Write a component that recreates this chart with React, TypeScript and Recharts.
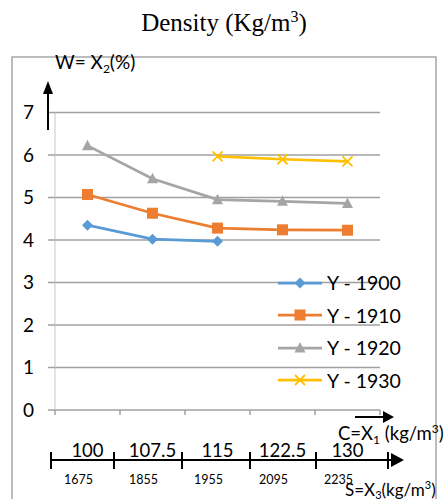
import React from 'react';
import { LineChart, Line, XAxis, YAxis, CartesianGrid, Legend } from 'recharts';

// cement content C = X1 (kg/m3), and matching density S = X3
const cementLabels = ['100', '107.5', '115', '122.5', '130'];
const densityLabels = ['1675', '1855', '1955', '2095', '2235'];

// moisture W = X2 (%)
const y1900 = [4.35, 4.02, 3.97, null, null];
const y1910 = [5.07, 4.63, 4.28, 4.24, 4.23];
const y1920 = [6.22, 5.44, 4.95, 4.91, 4.86];
const y1930 = [null, null, 5.97, 5.9, 5.85];

const yTicks = [0, 1, 2, 3, 4, 5, 6, 7];

const SERIES = [
  { key: 'y1900', name: 'Y - 1900', color: '#5b9bd5', marker: 'diamond' },
  { key: 'y1910', name: 'Y - 1910', color: '#ed7d31', marker: 'square' },
  { key: 'y1920', name: 'Y - 1920', color: '#a5a5a5', marker: 'triangle' },
  { key: 'y1930', name: 'Y - 1930', color: '#ffc000', marker: 'cross' },
];

const data = cementLabels.map((c, i) => ({
  c,
  y1900: y1900[i],
  y1910: y1910[i],
  y1920: y1920[i],
  y1930: y1930[i],
}));

const FONT = 'Lato, "Open Sans", sans-serif';
const GRID = '#a0a0a0';
const HALF_BAND = 32.5;

function Marker({ kind, cx, cy, color }: { kind: string; cx: number; cy: number; color: string }) {
  if (kind === 'diamond') {
    return <polygon points={`${cx},${cy - 5.5} ${cx + 5.5},${cy} ${cx},${cy + 5.5} ${cx - 5.5},${cy}`} fill={color} />;
  }
  if (kind === 'square') {
    return <rect x={cx - 5.5} y={cy - 5.5} width={11} height={11} fill={color} />;
  }
  if (kind === 'triangle') {
    return <polygon points={`${cx},${cy - 6} ${cx + 5.5},${cy + 4.5} ${cx - 5.5},${cy + 4.5}`} fill={color} />;
  }
  return (
    <g stroke={color} strokeWidth={1.8}>
      <line x1={cx - 5} y1={cy - 5} x2={cx + 5} y2={cy + 5} />
      <line x1={cx - 5} y1={cy + 5} x2={cx + 5} y2={cy - 5} />
    </g>
  );
}

// tick labels sit under the plot: cement value on top, density below,
// with excel-style tick marks between categories
function CategoryTick(props: any) {
  const { x, y, payload } = props;
  const i = cementLabels.indexOf(String(payload.value));
  const last = i === cementLabels.length - 1;
  return (
    <g>
      <line x1={x - HALF_BAND} y1={y - 1} x2={x - HALF_BAND} y2={y + 4} stroke={GRID} strokeWidth={1.5} />
      {last && <line x1={x + HALF_BAND} y1={y - 1} x2={x + HALF_BAND} y2={y + 4} stroke={GRID} strokeWidth={1.5} />}
      <text x={x} y={y + 46} textAnchor="middle" fontFamily={FONT} fontSize={18.5} fill="#000">
        {payload.value}
      </text>
      <text x={x - 9} y={y + 73} textAnchor="middle" fontFamily={FONT} fontSize={12.5} fill="#000">
        {densityLabels[i]}
      </text>
    </g>
  );
}

function LegendContent() {
  return (
    <div style={{ fontFamily: FONT, fontSize: 19.5, color: '#000' }}>
      {SERIES.map(s => (
        <div key={s.key} style={{ display: 'flex', alignItems: 'center', height: 32.5 }}>
          <svg width={44} height={16} style={{ display: 'block' }}>
            <line x1={0} y1={8} x2={44} y2={8} stroke={s.color} strokeWidth={2.75} />
            <Marker kind={s.marker} cx={22} cy={8} color={s.color} />
          </svg>
          <span style={{ marginLeft: 5, whiteSpace: 'nowrap' }}>{s.name}</span>
        </div>
      ))}
    </div>
  );
}

export default function App() {
  const cTicks = [51, 114, 182, 250, 316, 388];
  return (
    <div style={{ position: 'absolute', left: 0, top: 0, width: 444, height: 499, background: '#fff' }}>
      <LineChart
        width={444}
        height={499}
        data={data}
        margin={{ top: 112.5, right: 64, bottom: 88, left: 10 }}
      >
        <CartesianGrid horizontal vertical={false} stroke={GRID} strokeWidth={1.5} />
        <XAxis
          dataKey="c"
          padding={{ left: HALF_BAND, right: HALF_BAND }}
          axisLine={false}
          tickLine={false}
          tickSize={1}
          tickMargin={0}
          height={1}
          interval={0}
          tick={CategoryTick}
        />
        <YAxis
          domain={[0, 7]}
          ticks={yTicks}
          width={45}
          tickSize={7}
          tickMargin={14}
          axisLine={{ stroke: '#c8c8c8', strokeWidth: 1 }}
          tickLine={{ stroke: GRID, strokeWidth: 1.5 }}
          tick={{ fontFamily: FONT, fontSize: 19, fill: '#000' }}
        />
        <Legend
          layout="vertical"
          align="center"
          verticalAlign="middle"
          width={160}
          wrapperStyle={{ left: 278, top: 266.5, width: 160 }}
          content={<LegendContent />}
        />
        {SERIES.map(s => (
          <Line
            key={s.key}
            dataKey={s.key}
            name={s.name}
            stroke={s.color}
            strokeWidth={2.75}
            isAnimationActive={false}
            connectNulls={false}
            dot={(p: any) =>
              p.cx == null || p.cy == null || p.value == null ? (
                <g key={`${s.key}-${p.index}`} />
              ) : (
                <Marker key={`${s.key}-${p.index}`} kind={s.marker} cx={p.cx} cy={p.cy} color={s.color} />
              )
            }
            activeDot={false}
          />
        ))}
      </LineChart>

      <svg
        width={444}
        height={499}
        style={{ position: 'absolute', left: 0, top: 0, pointerEvents: 'none' }}
      >
        <rect x={12} y={57} width={424} height={470} fill="none" stroke="#a6a6a6" strokeWidth={1.5} />
        <text x={224} y={31} textAnchor="middle" fontFamily='"Liberation Serif", "DejaVu Serif", serif' fontSize={25} fill="#000">
          Density (Kg/m<tspan dy={-9} fontSize={16}>3</tspan>
          <tspan dy={9}>)</tspan>
        </text>
        <text x={55} y={69} fontFamily={FONT} fontSize={19} fill="#000">
          W= X<tspan dy={4} fontSize={12}>2</tspan>
          <tspan dy={-4}>(%)</tspan>
        </text>
        {/* y arrow */}
        <line x1={48} y1={130} x2={48} y2={90} stroke="#000" strokeWidth={2} />
        <polygon points="48,81 43,94 53,94" fill="#000" />
        {/* C arrow */}
        <line x1={355} y1={417} x2={385} y2={417} stroke="#000" strokeWidth={2} />
        <polygon points="394,417 383,411 383,423" fill="#000" />
        <text x={338} y={440} fontFamily={FONT} fontSize={18.5} fill="#000">
          C=X<tspan dy={4} fontSize={12}>1</tspan>
          <tspan dy={-4}> (kg/m</tspan>
          <tspan dy={-7} fontSize={12}>3</tspan>
          <tspan dy={7}>)</tspan>
        </text>
        {/* S axis */}
        <line x1={51} y1={460} x2={394} y2={460} stroke="#000" strokeWidth={2} />
        <polygon points="404,460 391,453 391,467" fill="#000" />
        {cTicks.map(x => (
          <line key={x} x1={x} y1={452} x2={x} y2={469} stroke="#000" strokeWidth={2} />
        ))}
        <text x={345} y={496} fontFamily={FONT} fontSize={17} fill="#000">
          S=X<tspan dy={3} fontSize={11}>3</tspan>
          <tspan dy={-3}>(kg/m</tspan>
          <tspan dy={-7} fontSize={11}>3</tspan>
          <tspan dy={7}>)</tspan>
        </text>
      </svg>
    </div>
  );
}
